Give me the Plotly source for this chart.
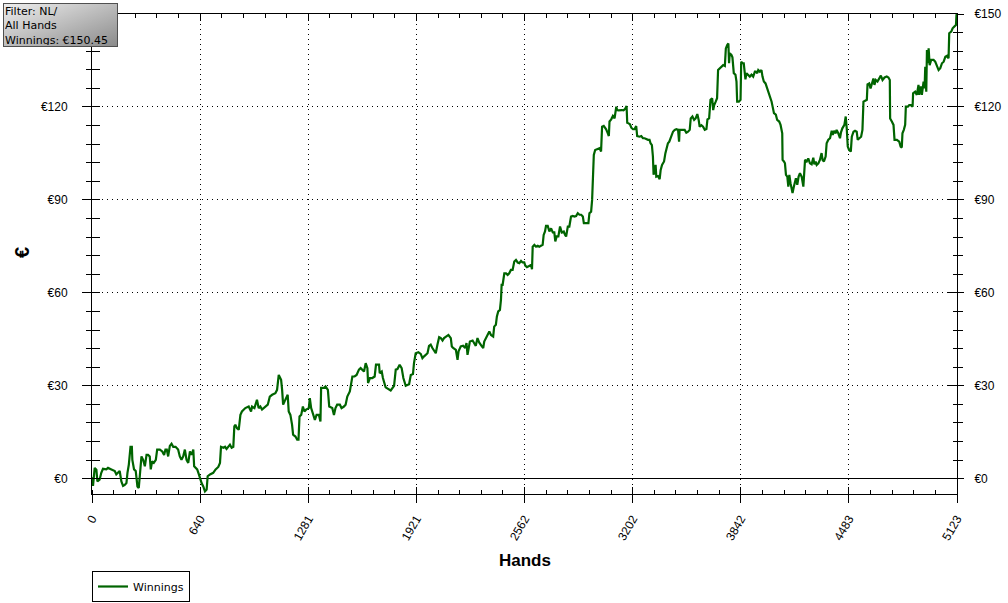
import base64
import plotly.graph_objects as go

# ---------------- data ----------------
hands = [
    0, 6, 16, 26, 32, 45, 55, 65, 85, 95, 115, 135, 144, 154, 164, 174, 184, 194, 204, 210,
    218, 228, 236, 239, 249, 259, 269, 277, 283, 293, 303, 313, 323, 332, 342, 348, 356, 366, 378, 386,
    402, 416, 427, 435, 443, 451, 461, 471, 481, 495, 510, 520, 530, 540, 550, 560, 570, 580, 590, 600,
    605, 613, 623, 633, 641, 649, 659, 669, 679, 685, 699, 718, 732, 748, 758, 764, 778, 788, 797, 807,
    817, 827, 837, 843, 849, 859, 869, 879, 888, 908, 928, 942, 948, 962, 977, 987, 997, 1007, 1017, 1027,
    1041, 1053, 1067, 1086, 1096, 1106, 1112, 1120, 1126, 1132, 1140, 1152, 1159, 1165, 1175, 1185, 1191, 1205, 1215, 1223,
    1229, 1239, 1249, 1258, 1268, 1284, 1290, 1298, 1310, 1320, 1330, 1344, 1353, 1357, 1373, 1383, 1397, 1405, 1423, 1433,
    1442, 1452, 1468, 1478, 1492, 1502, 1512, 1527, 1542, 1555, 1567, 1581, 1591, 1601, 1611, 1621, 1631, 1635, 1646, 1660,
    1674, 1682, 1700, 1704, 1716, 1723, 1739, 1769, 1789, 1799, 1809, 1822, 1834, 1844, 1858, 1878, 1888, 1901, 1907, 1917,
    1933, 1947, 1957, 1967, 1977, 1987, 1996, 2006, 2016, 2026, 2036, 2046, 2056, 2066, 2076, 2085, 2099, 2111, 2125, 2131,
    2139, 2155, 2165, 2171, 2184, 2198, 2210, 2218, 2224, 2230, 2238, 2254, 2266, 2273, 2283, 2293, 2309, 2317, 2323, 2343,
    2353, 2363, 2376, 2382, 2392, 2398, 2406, 2416, 2422, 2426, 2432, 2442, 2452, 2462, 2471, 2481, 2491, 2501, 2511, 2521,
    2531, 2541, 2550, 2560, 2566, 2576, 2590, 2600, 2606, 2610, 2620, 2630, 2640, 2649, 2659, 2669, 2675, 2683, 2689, 2699,
    2709, 2719, 2729, 2738, 2744, 2752, 2762, 2772, 2782, 2794, 2802, 2808, 2818, 2827, 2837, 2847, 2857, 2867, 2877, 2887,
    2897, 2907, 2913, 2920, 2930, 2940, 2946, 2956, 2962, 2966, 2972, 2980, 2992, 3006, 3015, 3021, 3031, 3039, 3045, 3055,
    3061, 3065, 3075, 3085, 3095, 3105, 3110, 3118, 3128, 3138, 3148, 3158, 3166, 3170, 3178, 3186, 3194, 3204, 3213, 3223,
    3229, 3243, 3253, 3263, 3273, 3283, 3293, 3302, 3308, 3316, 3322, 3326, 3332, 3338, 3342, 3352, 3362, 3368, 3376, 3388,
    3396, 3403, 3411, 3419, 3427, 3431, 3441, 3451, 3461, 3471, 3477, 3480, 3490, 3500, 3510, 3520, 3530, 3540, 3546, 3556,
    3566, 3575, 3585, 3593, 3599, 3609, 3619, 3629, 3639, 3645, 3655, 3663, 3673, 3679, 3685, 3694, 3702, 3708, 3718, 3728,
    3738, 3748, 3754, 3762, 3769, 3773, 3777, 3787, 3793, 3801, 3811, 3817, 3821, 3831, 3841, 3845, 3852, 3860, 3866, 3870,
    3876, 3886, 3896, 3906, 3916, 3926, 3932, 3940, 3946, 3955, 3965, 3971, 3979, 3989, 3999, 4009, 4019, 4025, 4031, 4039,
    4050, 4058, 4070, 4078, 4088, 4090, 4098, 4104, 4110, 4118, 4124, 4130, 4137, 4143, 4149, 4157, 4163, 4169, 4177, 4185,
    4193, 4203, 4213, 4217, 4223, 4233, 4242, 4252, 4262, 4272, 4278, 4286, 4292, 4302, 4311, 4321, 4327, 4335, 4345, 4351,
    4361, 4371, 4381, 4387, 4395, 4405, 4410, 4420, 4430, 4436, 4444, 4456, 4464, 4470, 4476, 4484, 4494, 4500, 4510, 4519,
    4529, 4535, 4543, 4555, 4563, 4569, 4579, 4589, 4593, 4603, 4611, 4618, 4628, 4634, 4642, 4652, 4662, 4672, 4682, 4694,
    4707, 4717, 4725, 4727, 4737, 4747, 4753, 4767, 4781, 4789, 4796, 4800, 4808, 4816, 4820, 4832, 4840, 4850, 4860, 4863,
    4875, 4885, 4895, 4899, 4909, 4915, 4925, 4931, 4935, 4941, 4945, 4951, 4955, 4961, 4970, 4984, 4994, 5004, 5014, 5024,
    5034, 5044, 5054, 5064, 5073, 5077, 5089, 5097, 5109, 5117, 5120, 5123,
]

winnings = [
    0.5, -2.3, 3.5, 2.9, -0.9, -0.3, 1.9, 3.2, 3.0, 3.5, 3.0, 2.5, 1.4, 1.9, 2.5, -0.9, -2.3, -2.0, -1.4, 1.9,
    4.5, 10.3, 10.3, 6.1, 3.0, 2.5, -2.5, -3.0, 1.9, 7.2, 6.1, 4.0, 7.7, 7.7, 7.2, 3.0, 5.6, 5.1, 6.1, 9.4,
    9.4, 8.8, 7.7, 9.4, 9.4, 7.2, 10.6, 11.3, 10.3, 10.3, 9.4, 7.2, 6.1, 7.2, 9.4, 6.1, 5.1, 8.8, 7.7, 9.4,
    4.0, 3.5, 3.0, 1.4, -0.3, -1.4, -2.5, -4.1, -3.5, 0.8, 1.4, 1.9, 3.0, 3.8, 5.1, 10.3, 10.0, 10.3, 9.6, 10.5,
    11.0, 10.0, 10.3, 16.9, 17.4, 16.3, 15.8, 20.6, 21.7, 22.8, 23.3, 21.7, 23.3, 22.8, 25.5, 22.8, 23.3, 22.3, 22.8, 23.3,
    23.9, 26.5, 27.1, 27.6, 28.7, 33.5, 33.0, 31.9, 28.7, 23.9, 24.9, 26.5, 27.1, 21.7, 20.6, 17.4, 14.2, 13.6, 12.6, 12.6,
    20.1, 20.6, 23.3, 21.7, 22.3, 22.8, 26.0, 22.8, 20.6, 19.0, 20.6, 20.6, 18.5, 29.3, 29.3, 29.8, 28.7, 23.3, 22.8, 20.6,
    22.8, 23.9, 23.9, 22.8, 23.3, 23.9, 26.5, 28.2, 33.0, 33.0, 33.5, 35.2, 35.7, 35.2, 34.6, 37.3, 35.7, 30.9, 32.5, 32.5,
    33.0, 36.8, 36.8, 34.1, 34.6, 32.5, 29.5, 28.5, 30.0, 35.2, 35.4, 36.8, 35.7, 32.5, 30.0, 30.5, 33.5, 33.8, 37.3, 40.5,
    40.8, 40.3, 38.9, 39.5, 40.0, 40.5, 42.9, 43.3, 42.2, 41.1, 40.5, 43.3, 45.7, 45.4, 44.6, 45.4, 45.9, 46.4, 45.4, 42.7,
    42.2, 41.6, 38.4, 41.1, 42.7, 42.9, 42.2, 43.8, 40.0, 42.7, 44.3, 44.6, 43.5, 42.9, 45.4, 44.0, 42.7, 42.2, 44.3, 46.8,
    47.5, 46.4, 45.9, 49.1, 49.7, 52.4, 54.0, 54.5, 57.7, 62.6, 62.6, 66.3, 66.3, 65.8, 66.3, 67.4, 67.4, 70.1, 70.6, 69.8,
    69.6, 70.3, 69.8, 69.8, 68.8, 68.3, 68.6, 69.0, 67.6, 74.9, 75.5, 74.9, 75.2, 74.9, 75.2, 75.5, 78.7, 79.8, 81.6, 81.6,
    79.8, 80.8, 79.5, 79.5, 76.6, 78.2, 78.2, 81.4, 79.5, 79.8, 78.7, 78.2, 81.4, 81.4, 84.6, 84.8, 84.6, 84.8, 85.7, 85.2,
    85.2, 84.6, 82.5, 82.5, 82.3, 82.5, 85.7, 86.2, 90.0, 97.5, 104.5, 106.1, 106.3, 106.7, 105.6, 113.6, 113.9, 113.3, 112.8, 111.5,
    110.6, 115.3, 116.0, 117.1, 116.3, 120.1, 119.0, 118.9, 119.0, 119.0, 118.9, 119.4, 120.3, 114.9, 114.7, 114.4, 113.3, 112.8, 112.8, 113.8,
    110.6, 110.4, 110.6, 109.9, 109.9, 109.6, 109.4, 109.4, 108.3, 107.7, 104.0, 98.1, 99.7, 101.3, 97.5, 97.7, 96.7, 99.7, 101.3, 102.4,
    105.1, 107.2, 108.3, 108.8, 110.0, 110.4, 112.0, 112.6, 112.8, 112.6, 108.8, 112.6, 112.6, 112.4, 112.6, 111.7, 112.0, 112.6, 116.3, 116.9,
    115.8, 116.3, 117.7, 115.8, 113.6, 114.1, 113.6, 112.6, 112.9, 116.0, 116.3, 122.3, 122.8, 119.0, 120.6, 121.7, 122.8, 131.9, 132.5, 133.2,
    133.5, 133.2, 138.9, 140.0, 140.5, 134.1, 137.3, 136.8, 136.0, 130.9, 130.4, 128.2, 121.7, 121.7, 122.3, 134.6, 134.1, 134.1, 131.4, 128.9,
    130.9, 130.4, 129.8, 130.4, 129.8, 131.4, 131.4, 130.9, 131.9, 131.4, 131.9, 129.8, 128.2, 127.6, 126.0, 125.0, 123.3, 121.7, 120.1, 118.0,
    117.5, 115.8, 115.3, 114.2, 111.5, 102.9, 102.4, 101.8, 98.1, 97.5, 94.3, 98.1, 95.4, 93.2, 92.2, 94.3, 95.4, 97.0, 94.9, 97.5,
    98.6, 97.5, 94.3, 99.7, 102.9, 102.4, 103.4, 101.8, 101.5, 103.6, 101.5, 102.4, 101.3, 101.8, 102.9, 105.1, 102.9, 102.4, 104.0, 108.3,
    109.4, 109.9, 112.3, 111.0, 112.3, 111.5, 112.6, 111.5, 109.9, 111.8, 113.1, 114.2, 116.9, 113.1, 107.2, 106.1, 105.6, 110.4, 112.0, 112.3,
    112.0, 109.4, 109.9, 110.4, 112.6, 121.7, 122.0, 122.3, 127.3, 127.6, 126.0, 127.6, 129.2, 127.1, 128.7, 128.2, 129.2, 130.1, 128.7, 129.5,
    129.8, 129.5, 128.7, 116.3, 115.3, 114.2, 109.4, 109.4, 108.8, 107.2, 106.9, 111.5, 112.6, 114.2, 120.1, 120.1, 120.6, 120.6, 120.1, 124.4,
    124.9, 123.9, 127.1, 123.9, 126.6, 123.9, 128.2, 126.0, 133.0, 124.9, 138.4, 134.1, 138.9, 133.5, 135.2, 135.2, 134.6, 133.5, 131.9, 132.5,
    134.1, 134.6, 136.2, 136.5, 135.7, 143.8, 144.3, 145.4, 145.9, 146.5, 149.7, 150.45,
]

series_name = "Winnings"
x_tick_labels = ["0", "640", "1281", "1921", "2562", "3202", "3842", "4483", "5123"]
y_tick_values = [0, 30, 60, 90, 120, 150]
y_tick_labels = ["€0", "€30", "€60", "€90", "€120", "€150"]
info_lines = ["Filter: NL/", "All Hands", "Winnings: €150.45"]
x_title = "Hands"
y_title = "€"

# ---------------- styling ----------------
X_MAX = 5123
Y_RANGE = [-4.93, 150]
W, H = 1008, 619
ML, MR, MT, MB = 92, 51, 14, 125
PW, PH = W - ML - MR, H - MT - MB


def px_x(p):
    return (p - ML) / PW


def px_y(p):
    return (H - MB - p) / PH


tick_font = dict(family="Liberation Sans, Arial, sans-serif", size=12, color="black")
x_tickvals = [int(t) for t in x_tick_labels]
x_minor = X_MAX / 40

fig = go.Figure()
fig.add_trace(go.Scatter(
    x=hands, y=winnings, mode="lines", name=series_name,
    line=dict(color="#006400", width=2.2), hoverinfo="skip",
))
# invisible copies so that the extra (overlaid) tick axes get drawn
for xa, ya in [("x2", "y"), ("x3", "y"), ("x", "y2"), ("x", "y3"), ("x", "y4")]:
    fig.add_trace(go.Scatter(
        x=hands, y=winnings, mode="lines", xaxis=xa, yaxis=ya,
        line=dict(color="rgba(0,0,0,0)", width=0), opacity=0,
        showlegend=False, hoverinfo="skip",
    ))

common_x = dict(range=[0, X_MAX], tickvals=x_tickvals, fixedrange=True, zeroline=False)
common_y = dict(range=Y_RANGE, tickvals=y_tick_values, fixedrange=True)

left_labels = y_tick_labels[:-1] + [""]  # top-left label is hidden behind the info box

fig.update_layout(
    width=W, height=H, autosize=False,
    margin=dict(l=ML, r=MR, t=MT, b=MB, pad=0),
    paper_bgcolor="white", plot_bgcolor="white",
    showlegend=True,
    xaxis=dict(
        **common_x, ticktext=x_tick_labels, tickangle=-60, tickfont=tick_font,
        ticks="outside", ticklen=8, tickcolor="black", tickwidth=1,
        showline=True, linecolor="black", linewidth=1,
        showgrid=True, gridcolor="black", gridwidth=1, griddash="1px,4px",
        minor=dict(ticks="inside", ticklen=4, tickcolor="black", tickwidth=1,
                   tick0=0, dtick=x_minor, showgrid=False),
        ticklabelstandoff=4, automargin=False,
    ),
    xaxis2=dict(
        **common_x, overlaying="x", side="top", anchor="y",
        showticklabels=False, ticks="inside", ticklen=7, tickcolor="black",
        showline=True, linecolor="black", linewidth=1, showgrid=False,
        minor=dict(ticks="inside", ticklen=4, tickcolor="black",
                   tick0=0, dtick=x_minor, showgrid=False),
    ),
    xaxis3=dict(
        **common_x, overlaying="x", side="bottom", anchor="y",
        showticklabels=False, ticks="inside", ticklen=7, tickcolor="black",
        showline=False, showgrid=False,
    ),
    yaxis=dict(
        **common_y, ticktext=left_labels, tickfont=tick_font,
        ticks="outside", ticklen=9, tickcolor="black",
        showline=True, linecolor="black", linewidth=1,
        showgrid=True, gridcolor="black", gridwidth=1, griddash="1px,4px",
        zeroline=True, zerolinecolor="black", zerolinewidth=1,
        minor=dict(ticks="outside", ticklen=5, tickcolor="black", tick0=0, dtick=6, showgrid=False),
        ticklabelstandoff=12, automargin=False,
    ),
    yaxis3=dict(
        **common_y, overlaying="y", side="left", anchor="x",
        showticklabels=False, ticks="inside", ticklen=8, tickcolor="black",
        showline=False, showgrid=False, zeroline=False,
        minor=dict(ticks="inside", ticklen=8, tickcolor="black", tick0=0, dtick=6, showgrid=False),
    ),
    yaxis2=dict(
        **common_y, overlaying="y", side="right", anchor="x",
        ticktext=y_tick_labels, tickfont=tick_font,
        ticks="outside", ticklen=6, tickcolor="black",
        showline=True, linecolor="black", linewidth=1, showgrid=False, zeroline=False,
        minor=dict(ticks="outside", ticklen=5, tickcolor="black", tick0=0, dtick=6, showgrid=False),
        ticklabelstandoff=8, automargin=False,
    ),
    yaxis4=dict(
        **common_y, overlaying="y", side="right", anchor="x",
        showticklabels=False, ticks="inside", ticklen=9, tickcolor="black",
        showline=False, showgrid=False, zeroline=False,
        minor=dict(ticks="inside", ticklen=4, tickcolor="black", tick0=0, dtick=6, showgrid=False),
    ),
    legend=dict(
        x=0, y=px_y(571), xanchor="left", yanchor="top",
        bordercolor="black", borderwidth=1, bgcolor="white",
        font=dict(family="DejaVu Sans, Verdana, sans-serif", size=11, color="black"),
        itemwidth=30,
    ),
)

# axis titles
fig.add_annotation(
    x=0.5, y=px_y(560), xref="paper", yref="paper", showarrow=False,
    text=f"<b>{x_title}</b>", xanchor="center", yanchor="middle",
    font=dict(family="Liberation Sans, Arial, sans-serif", size=17, color="black"),
)
fig.add_annotation(
    x=px_x(22), y=px_y(253), xref="paper", yref="paper", showarrow=False,
    text=f"<b>{y_title}</b>", textangle=-90, xanchor="center", yanchor="middle",
    font=dict(family="Liberation Sans, Arial, sans-serif", size=20, color="black"),
)

# info box with grey gradient
BOX_L, BOX_T, BOX_W, BOX_H = 3, 3, 115, 44
svg = (
    f'<svg xmlns="http://www.w3.org/2000/svg" width="{BOX_W}" height="{BOX_H}">'
    '<defs><linearGradient id="g" x1="0" y1="0" x2="1" y2="1">'
    '<stop offset="0" stop-color="#efefef"/><stop offset="1" stop-color="#8a8a8a"/>'
    '</linearGradient></defs>'
    f'<rect width="{BOX_W}" height="{BOX_H}" fill="url(#g)"/></svg>'
)
src = "data:image/svg+xml;base64," + base64.b64encode(svg.encode()).decode()
fig.add_layout_image(
    source=src, xref="paper", yref="paper",
    x=px_x(BOX_L), y=px_y(BOX_T), sizex=BOX_W / PW, sizey=BOX_H / PH,
    xanchor="left", yanchor="top", sizing="stretch", layer="above",
)
fig.add_annotation(
    x=px_x(BOX_L), y=px_y(BOX_T), xref="paper", yref="paper", showarrow=False,
    text="<br>".join(info_lines), align="left", valign="top",
    xanchor="left", yanchor="top", width=BOX_W - 4, height=BOX_H - 4,
    bordercolor="#505050", borderwidth=1, borderpad=1,
    font=dict(family="DejaVu Sans, Verdana, sans-serif", size=11, color="black"),
)

fig.write_html(
    "out.html",
    config={"responsive": False, "displayModeBar": False, "staticPlot": True},
    post_script="document.body.style.margin='0';document.body.style.overflow='hidden';",
)
